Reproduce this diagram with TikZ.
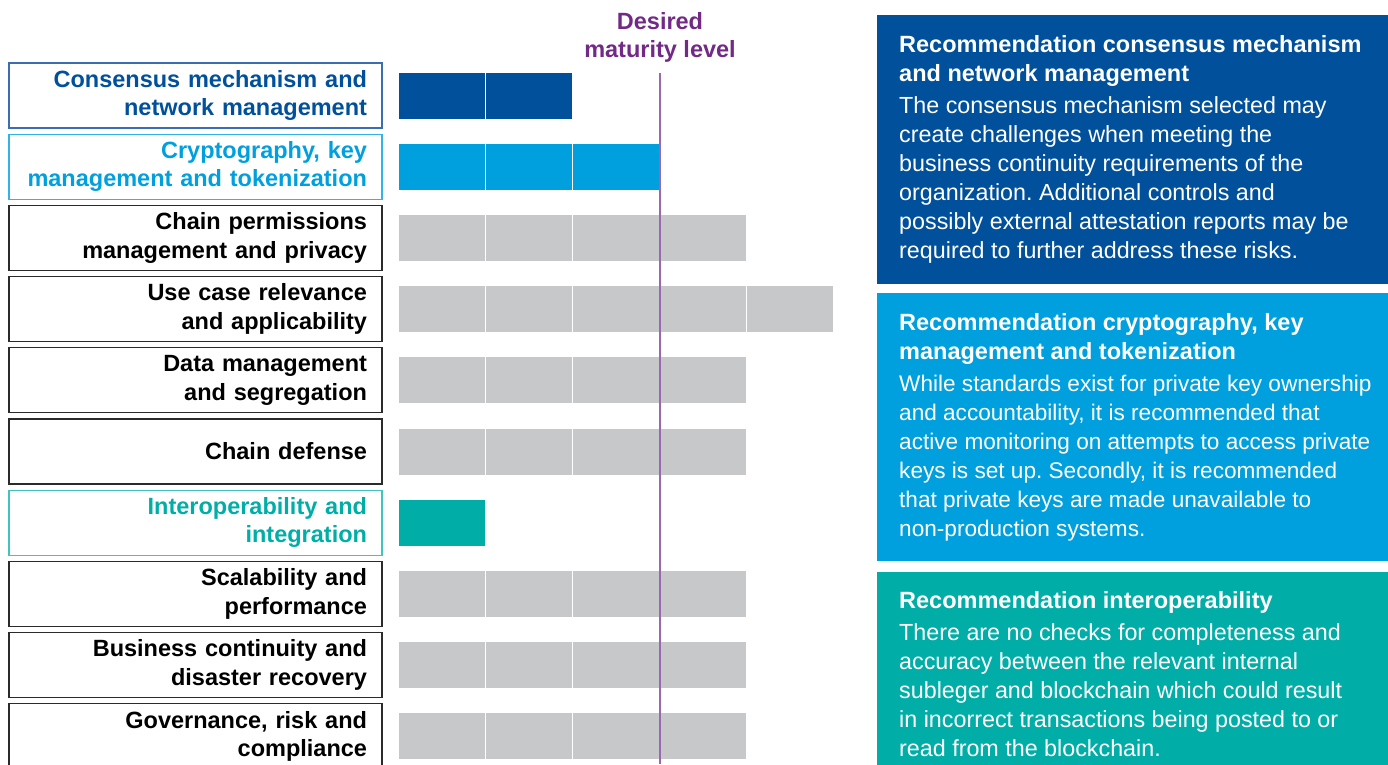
\documentclass[tikz,border=0pt]{standalone}
\usepackage{fontspec}
\setmainfont{Liberation Sans}
\usepackage{tikz}
\usetikzlibrary{positioning,calc}
\frenchspacing

\definecolor{kdark}{HTML}{00509B}
\definecolor{klight}{HTML}{00A0DE}
\definecolor{kteal}{HTML}{00AEA7}
\definecolor{kgrey}{HTML}{C7C8CA}
\definecolor{kplum}{HTML}{722A86}
\definecolor{kline}{HTML}{9A68AE}
\definecolor{kframe}{HTML}{2B2B2B}
\definecolor{kframedark}{HTML}{3A6EB0}
\definecolor{kframelight}{HTML}{33B2E8}
\definecolor{kframeteal}{HTML}{40C4BC}

\newcommand{\rechead}[1]{{\fontsize{23.5}{29}\selectfont\bfseries #1}}

\begin{document}
\begin{tikzpicture}[x=1pt, y=-1pt, node distance=6.2pt,
    every node/.style={font=\fontsize{23.5}{28.5}\selectfont},
    area/.style={draw=kframe, line width=1.2pt, outer sep=0pt, minimum width=373pt, minimum height=65pt,
      text width=343pt, inner xsep=15pt, align=right, font=\fontsize{23.5}{28.5}\selectfont\bfseries},
    seg/.style={fill=kgrey, minimum width=86pt, minimum height=46pt, inner sep=0pt, outer sep=0pt},
    recbox/.style={minimum width=511pt, inner sep=0pt, outer sep=0pt, anchor=north west},
    rectext/.style={text=white, align=left, anchor=west, inner sep=0pt, font=\fontsize{23.3}{29}\selectfont}]
	\clip (0,0) rectangle (1388,764);

	% assessment areas
	\node[area, draw=kframedark, text=kdark, anchor=north west] (l1) at (9,63) {Consensus mechanism and\\network management};
	\node[area, draw=kframelight, text=klight, below=of l1] (l2) {Cryptography, key\\management and tokenization};
	\node[area, below=of l2] (l3) {Chain permissions\\management and privacy};
	\node[area, below=of l3] (l4) {Use case relevance\\and applicability};
	\node[area, below=of l4] (l5) {Data management\\and segregation};
	\node[area, below=of l5] (l6) {Chain defense};
	\node[area, draw=kframeteal, text=kteal, below=of l6] (l7) {Interoperability and\\integration};
	\node[area, below=of l7] (l8) {Scalability and\\performance};
	\node[area, below=of l8] (l9) {Business continuity and\\disaster recovery};
	\node[area, below=of l9] (l10) {Governance, risk and\\compliance};

	% maturity bars
	\foreach \r/\n/\c in {1/2/kdark, 2/3/klight, 3/4/kgrey, 4/5/kgrey, 5/4/kgrey, 6/4/kgrey, 7/1/kteal, 8/4/kgrey, 9/4/kgrey, 10/4/kgrey}
		\foreach \i in {1,...,\n}
			\node[seg, fill=\c] (s\r-\i) at ($(l\r.east)+(87*\i-27,0)$) {};

	% desired level
	\node[text=kplum, font=\fontsize{23.5}{28.5}\selectfont\bfseries, align=center, anchor=south, inner sep=0pt] (goal) at (660,63) {Desired\\maturity level};
	\coordinate (goaltop) at (660,73);
	\coordinate (goalbot) at (660,764);
	\draw[kline, line width=1.6pt] (goaltop) -- (goalbot);

	% recommendations
	\node[recbox, fill=kdark, minimum height=269pt] (rec1) at (877,15) {};
	\node[recbox, fill=klight, minimum height=268pt] (rec2) at (877,293) {};
	\node[recbox, fill=kteal, minimum height=204pt] (rec3) at (877,572) {};

	\node[rectext] (txt1) at ($(rec1.west)+(22,0)$) {\rechead{Recommendation consensus mechanism}\\
		\rechead{and network management}\\[3pt]
		The consensus mechanism selected may\\
		create challenges when meeting the\\
		business continuity requirements of the\\
		organization. Additional controls and\\
		possibly external attestation reports may be\\
		required to further address these risks.};
	\node[rectext, font=\fontsize{22.6}{29}\selectfont] (txt2) at ($(rec2.west)+(22,0)$) {\rechead{Recommendation cryptography, key}\\
		\rechead{management and tokenization}\\[3pt]
		While standards exist for private key ownership\\
		and accountability, it is recommended that\\
		active monitoring on attempts to access private\\
		keys is set up. Secondly, it is recommended\\
		that private keys are made unavailable to\\
		non-production systems.};
	\node[rectext] (txt3) at ($(rec3.west)+(22,0)$) {\rechead{Recommendation interoperability}\\[3pt]
		There are no checks for completeness and\\
		accuracy between the relevant internal\\
		subleger and blockchain which could result\\
		in incorrect transactions being posted to or\\
		read from the blockchain.};
\end{tikzpicture}
\end{document}
